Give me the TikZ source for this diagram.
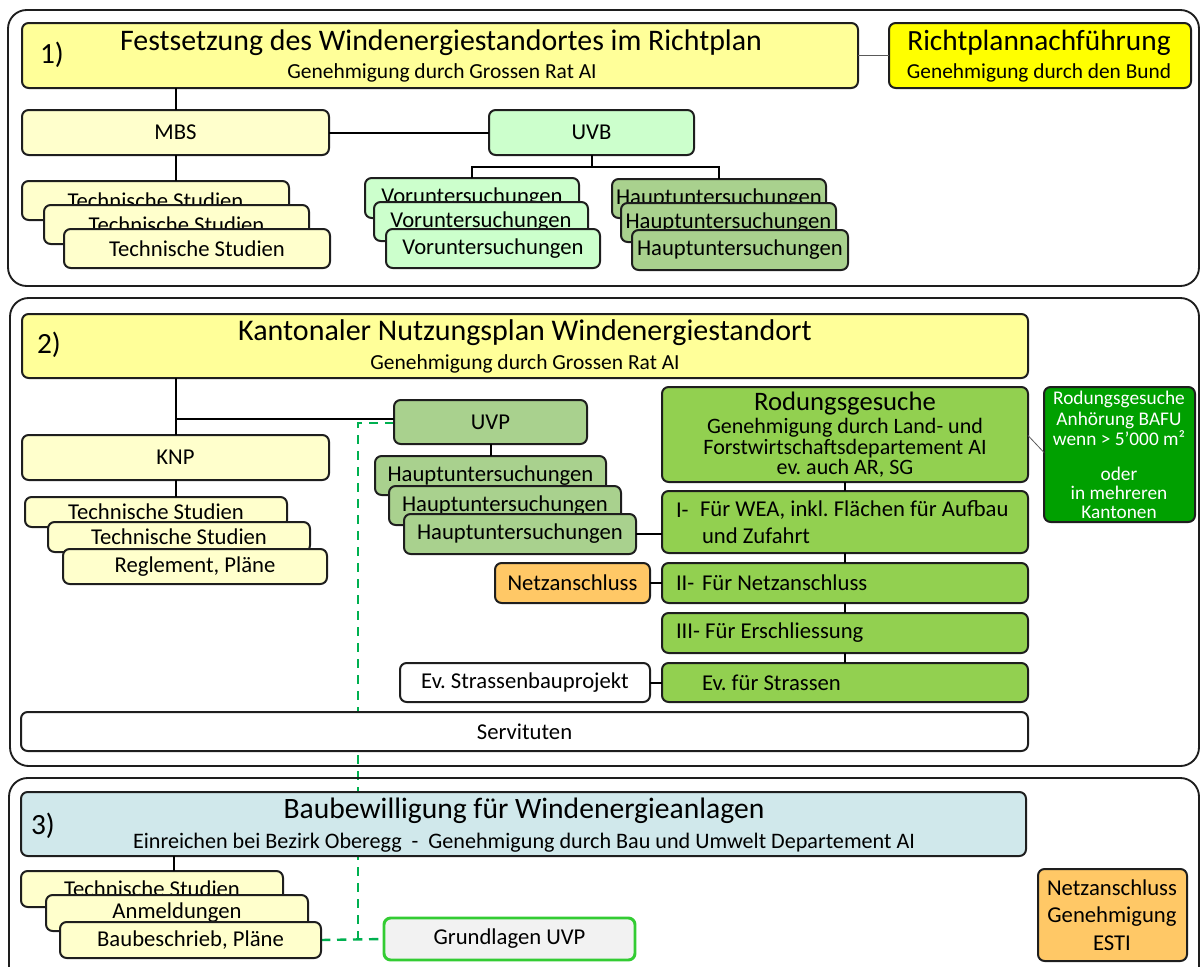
\documentclass[tikz,border=0pt]{standalone}
\usepackage{fontspec}
\setmainfont{Carlito}
\usetikzlibrary{calc,backgrounds}
\definecolor{ylt}{HTML}{FFFF99}
\definecolor{ystk}{HTML}{FFFFCC}
\definecolor{ybr}{HTML}{FFFF00}
\definecolor{glt}{HTML}{CCFFCC}
\definecolor{gmd}{HTML}{A9D18E}
\definecolor{grod}{HTML}{92D050}
\definecolor{gdk}{HTML}{00A000}
\definecolor{org}{HTML}{FFC866}
\definecolor{blt}{HTML}{D0E8EB}
\definecolor{gbr}{HTML}{33CC33}
\definecolor{gdash}{HTML}{00B050}
\definecolor{lnc}{HTML}{1E1E1E}
\definecolor{gry}{HTML}{F2F2F2}
\newcommand\bx[7]{\node[#1,minimum width={(#5-#3)*0.75pt},minimum height={(#6-#4)*0.75pt}] (#2) at ({(#3+#5)/2},{(#4+#6)/2}) {#7};}
\newcommand\fs[2]{\fontsize{#1}{#2}\selectfont}
\frenchspacing
\begin{document}
\frenchspacing
\begin{tikzpicture}[x=0.75pt,y=-0.75pt,
 box/.style={draw=lnc,line width=1.5pt,rounded corners=5pt,inner sep=0pt,outer sep=0pt,align=center,font=\fs{17}{17}},
 frame/.style={draw=lnc,line width=1.4pt,rounded corners=14pt,inner sep=0pt,outer sep=0pt},
 conn/.style={draw=black,line width=1.5pt},
 thinl/.style={draw=gray!70!black,line width=0.6pt},
 dashg/.style={draw=gdash,line width=1.8pt,dash pattern=on 7pt off 5pt},
 lbl/.style={inner sep=0pt,outer sep=0pt,align=center},
 lft/.style={inner sep=0pt,outer sep=0pt,anchor=west,font=\fs{17}{17}},
]
\useasboundingbox (0,0) rectangle (1200,967);
% frames
\bx{frame}{f1}{8}{10}{1199}{286}{}
\bx{frame}{f2}{10}{298}{1199}{766}{}
\bx{frame}{f3}{9}{778}{1199}{990}{}
% section 1
\bx{box,fill=ylt}{t1}{22}{23}{858}{88}{}
\node[lbl,font=\fs{22}{22}] (t1n) at (52,55) {1)};
\node[lbl,font=\fs{22.4}{22}] (t1a) at (441,43) {Festsetzung des Windenergiestandortes im Richtplan};
\node[lbl,font=\fs{16.1}{16}] (t1b) at (442,73) {Genehmigung durch Grossen Rat AI};
\bx{box,fill=ybr}{rp}{889}{23}{1191}{88}{}
\node[lbl,font=\fs{22}{22}] (rpa) at (1039,43) {Richtplannachführung};
\node[lbl,font=\fs{16}{16}] (rpb) at (1039,73) {Genehmigung durch den Bund};
\bx{box,fill=ystk}{mbs}{22}{110}{329}{155}{MBS}
\bx{box,fill=glt}{uvb}{489}{110}{694}{155}{UVB}
\bx{box,fill=ystk}{ts1}{22}{181}{289}{220}{Technische Studien}
\bx{box,fill=ystk}{ts2}{44}{205}{309}{244}{Technische Studien}
\bx{box,fill=ystk}{ts3}{64}{229}{330}{268}{Technische Studien}
\bx{box,fill=glt}{vo1}{365}{178}{579}{218}{Voruntersuchungen}
\bx{box,fill=glt}{vo2}{374}{202}{588}{241}{Voruntersuchungen}
\bx{box,fill=glt}{vo3}{386}{229}{600}{268}{Voruntersuchungen}
\bx{box,fill=gmd}{hu1}{612}{179}{826}{218}{Hauptuntersuchungen}
\bx{box,fill=gmd}{hu2}{621}{203}{836}{242}{Hauptuntersuchungen}
\bx{box,fill=gmd}{hu3}{632}{230}{848}{270}{Hauptuntersuchungen}
% section 2
\bx{box,fill=ylt}{t2}{22}{314}{1028}{378}{}
\node[lbl,font=\fs{22}{22}] (t2n) at (49,345) {2)};
\node[lbl,font=\fs{22.5}{22}] (t2a) at (525,333) {Kantonaler Nutzungsplan Windenergiestandort};
\node[lbl,font=\fs{16.1}{16}] (t2b) at (525,364) {Genehmigung durch Grossen Rat AI};
\bx{box,fill=ystk}{knp}{22}{435}{329}{480}{KNP}
\bx{box,fill=gmd}{uvp}{394}{400}{587}{444}{UVP}
\bx{box,fill=ystk}{k1}{25}{497}{287}{527}{Technische Studien}
\bx{box,fill=ystk}{k2}{48}{522}{310}{552}{Technische Studien}
\bx{box,fill=ystk}{k3}{63}{549}{327}{584}{Reglement, Pläne}
\bx{box,fill=gmd}{hb1}{375}{456}{606}{495}{Hauptuntersuchungen}
\bx{box,fill=gmd}{hb2}{389}{486}{621}{525}{Hauptuntersuchungen}
\bx{box,fill=gmd}{hb3}{404}{514}{636}{554}{Hauptuntersuchungen}
\bx{box,fill=grod}{rod}{662}{387}{1028}{482}{}
\node[lbl,font=\fs{20}{20}] (roda) at (845,404) {Rodungsgesuche};
\node[lbl,font=\fs{16.5}{13.9}] (rodb) at (845,448) {Genehmigung durch Land- und\\Forstwirtschaftsdepartement AI\\ev. auch AR, SG};
\bx{box,fill=grod}{r1}{662}{491}{1028}{553}{}
\node[lft] (r1n) at (676,510) {I-};
\node[lft] (r1a) at (700,510) {Für WEA, inkl. Flächen für Aufbau};
\node[lft] (r1b) at (702,536) {und Zufahrt};
\bx{box,fill=grod}{r2}{662}{563}{1028}{603}{}
\node[lft] (r2n) at (676,583) {II-};
\node[lft] (r2a) at (702,583) {Für Netzanschluss};
\bx{box,fill=grod}{r3}{662}{613}{1028}{653}{}
\node[lft] (r3a) at (676,633) {III- Für Erschliessung};
\bx{box,fill=grod}{r4}{662}{663}{1028}{702}{}
\node[lft] (r4a) at (702,683) {Ev. für Strassen};
\bx{box,fill=org}{netz}{495}{563}{650}{603}{Netzanschluss}
\bx{box,fill=white}{strb}{400}{663}{650}{702}{Ev. Strassenbauprojekt}
\bx{box,fill=white}{serv}{21}{712}{1028}{751}{Servituten}
\bx{box,fill=gdk,text=white}{bafu}{1044}{387}{1195}{522}{}
\node[lbl,text=white,font=\fs{14.5}{15.3}] (bafut) at (1119,455) {Rodungsgesuche\\Anhörung BAFU\\wenn > 5’000 m²\\[11pt]oder\\[-1pt]in mehreren\\[-1pt]Kantonen};
% section 3
\bx{box,fill=blt}{t3}{21}{792}{1026}{856}{}
\node[lbl,font=\fs{22}{22}] (t3n) at (43,826) {3)};
\node[lbl,font=\fs{22.2}{22}] (t3a) at (524,811) {Baubewilligung für Windenergieanlagen};
\node[lbl,font=\fs{16.6}{16}] (t3b) at (524,843) {Einreichen bei Bezirk Oberegg\ \ -\ \ Genehmigung durch Bau und Umwelt Departement AI};
\bx{box,fill=ystk}{s1}{21}{871}{283}{907}{Technische Studien}
\bx{box,fill=ystk}{s2}{46}{895}{308}{931}{Anmeldungen}
\bx{box,fill=ystk}{s3}{60}{922}{321}{958}{Baubeschrieb, Pläne}
\bx{box,draw=gbr,line width=2.2pt,fill=gry}{gu}{384}{918}{635}{960}{Grundlagen UVP}
\bx{box,fill=org}{esti}{1038}{869}{1187}{961}{}
\node[lbl,font=\fs{17}{20.5}] (estit) at (1112,915) {Netzanschluss\\Genehmigung\\ESTI};
% connectors section 1
\draw[thinl] (t1.east) -- (rp.west);
\draw[conn] (mbs.north) -- (mbs.north |- t1.south);
\draw[conn] (mbs.east) -- (uvb.west);
\coordinate (uj) at ($(uvb.south)+(0,12)$);
\draw[conn] (uvb.south) -- (uj);
\draw[conn] (vo1.north) |- (uj) -| (hu1.north);
\draw[conn] (mbs.south) -- (mbs.south |- ts1.north);
% connectors section 2
\draw[conn] (knp.north) -- (knp.north |- t2.south);
\coordinate (uw) at ($(uvp.west)+(0,-3)$);
\draw[conn] (uw) -- (uw -| knp.north);
\draw[conn] (knp.south) -- (knp.south |- k1.north);
\draw[conn] (uvp.south) -- (uvp.south |- hb1.north);
\draw[conn] (hb3.east) -- (hb3.east -| r1.west);
\draw[conn] (rod.south) -- (r1.north);
\draw[conn] (r1.south) -- (r2.north);
\draw[conn] (r2.south) -- (r3.north);
\draw[conn] (r3.south) -- (r4.north);
\draw[conn] (netz.east) -- (r2.west);
\draw[conn] (strb.east) -- (r4.west);
\draw[thinl] ($(rod.east)+(0,1)$) -- ($(bafu.west)+(0,-2)$);
% connectors section 3
\coordinate (s1c) at ($(s1.north)+(22,0)$);
\draw[conn] (s1c) -- (s1c |- t3.south);
\begin{pgfonlayer}{background}
\coordinate (dk) at (358,940);
\draw[dashg] ($(uvp.west)+(0,1)$) -| (dk);
\draw[dashg] (s3.east) -- (gu.west);
\end{pgfonlayer}
\end{tikzpicture}
\end{document}
